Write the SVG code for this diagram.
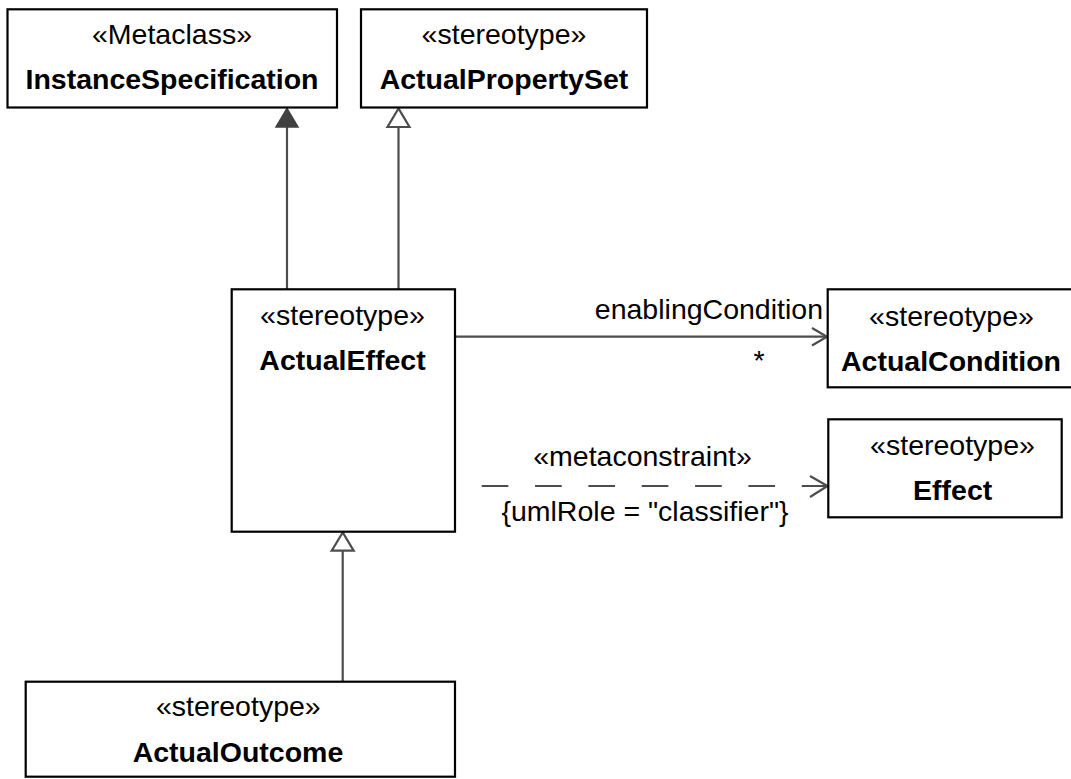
<svg xmlns="http://www.w3.org/2000/svg" width="1071" height="779" viewBox="0 0 1071 779">
<style>
  .box { fill: #ffffff; stroke: #000000; stroke-width: 2.2; }
  .t { font-family: "Liberation Sans", Arial, sans-serif; font-size: 28.5px; fill: #000000; text-anchor: middle; }
  .b { font-weight: bold; }
  .end { text-anchor: end; }
  .line { fill: none; stroke: #4d4d4d; stroke-width: 2.2; }
  .dash { stroke-dasharray: 26.67 26.67; }
  .open { fill: #ffffff; stroke: #4d4d4d; stroke-width: 2.2; stroke-linejoin: miter; }
  .filled { fill: #404040; stroke: #404040; stroke-width: 1.5; }
</style>
<rect width="1071" height="779" fill="#ffffff"/>

<g id="connectors">
  <!-- ActualEffect -> InstanceSpecification (filled triangle) -->
  <line class="line" x1="287" y1="289.3" x2="287" y2="127"/>
  <polygon class="filled" points="287,108.5 276,127 298,127"/>
  <!-- ActualEffect -> ActualPropertySet (generalization) -->
  <line class="line" x1="398.5" y1="289.3" x2="398.5" y2="127"/>
  <polygon class="open" points="398.5,108.5 387.5,127 409.5,127"/>
  <!-- ActualOutcome -> ActualEffect (generalization) -->
  <line class="line" x1="342.7" y1="681.7" x2="342.7" y2="550.7"/>
  <polygon class="open" points="342.7,532.5 331.7,550.7 353.7,550.7"/>
  <!-- association enablingCondition -->
  <line class="line" x1="455" y1="336.7" x2="827" y2="336.7"/>
  <polyline class="line" points="812,328 827,336.7 812,345.5"/>
  <text class="t end" x="823" y="318.5">enablingCondition</text>
  <text class="t" x="759" y="370">*</text>
  <!-- metaconstraint dependency -->
  <line class="line dash" x1="481.7" y1="486" x2="828" y2="486"/>
  <polyline class="line" points="810,476 827.5,486 810,497"/>
  <text class="t" x="642.5" y="465.5">«metaconstraint»</text>
  <text class="t" x="645" y="521">{umlRole = "classifier"}</text>
</g>

<g id="InstanceSpecification">
  <rect class="box" x="7.5" y="9.3" width="329.5" height="98.2"/>
  <text class="t" x="172" y="44">«Metaclass»</text>
  <text class="t b" x="172" y="88.5">InstanceSpecification</text>
</g>

<g id="ActualPropertySet">
  <rect class="box" x="361" y="9.3" width="286" height="98.2"/>
  <text class="t" x="504" y="44">«stereotype»</text>
  <text class="t b" x="504" y="88.5">ActualPropertySet</text>
</g>

<g id="ActualEffect">
  <rect class="box" x="231.7" y="289.3" width="223.3" height="242.4"/>
  <text class="t" x="342.5" y="325">«stereotype»</text>
  <text class="t b" x="342.5" y="369.5">ActualEffect</text>
</g>

<g id="ActualCondition">
  <rect class="box" x="827.7" y="289.3" width="248" height="98"/>
  <text class="t" x="951.5" y="326">«stereotype»</text>
  <text class="t b" x="951" y="370.5">ActualCondition</text>
</g>

<g id="Effect">
  <rect class="box" x="828.3" y="419.3" width="233.4" height="98"/>
  <text class="t" x="952.5" y="454.5">«stereotype»</text>
  <text class="t b" x="952.7" y="499.5">Effect</text>
</g>

<g id="ActualOutcome">
  <rect class="box" x="25.7" y="681.7" width="429.3" height="95"/>
  <text class="t" x="238.3" y="715.5">«stereotype»</text>
  <text class="t b" x="238" y="761.5">ActualOutcome</text>
</g>
</svg>
